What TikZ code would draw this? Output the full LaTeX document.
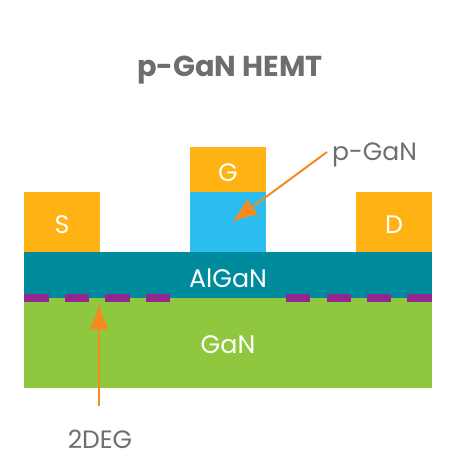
\documentclass[tikz,border=0pt]{standalone}
\usepackage{fontspec}
\usepackage{xcolor}
\usepackage{tikz}
\usetikzlibrary{arrows.meta, positioning}
\setmainfont{Poppins}
\definecolor{contactgold}{RGB}{255, 178, 20}
\definecolor{pganblue}{RGB}{43, 189, 240}
\definecolor{alganteal}{RGB}{0, 139, 157}
\definecolor{gangreen}{RGB}{143, 200, 62}
\definecolor{channelpurple}{RGB}{147, 39, 143}
\definecolor{arroworange}{RGB}{246, 138, 32}
\definecolor{labelgrey}{RGB}{109, 110, 113}

\begin{document}
\begin{tikzpicture}[
    x=0.75pt, y=-0.75pt,
    every node/.style={inner sep=0pt, outer sep=0pt},
    layer/.style={rectangle, minimum width=306pt, text=white, text depth=0pt, font=\fontsize{19}{21}\selectfont},
    contact/.style={rectangle, fill=contactgold, minimum width=57pt, text=white, text height=17.5pt, text depth=0pt, font=\fontsize{19}{21}\selectfont},
    dashbox/.style={rectangle, fill=channelpurple, minimum height=6pt, anchor=west},
    callout/.style={text=labelgrey, font=\fontsize{18.8}{21}\selectfont},
    pointer/.style={-{Latex[length=19pt, width=14.5pt]}, line width=1.5pt, arroworange}
]
\useasboundingbox (0,0) rectangle (452,473);

% Title
\node[text=labelgrey, font=\fontsize{21.6}{24}\selectfont\bfseries] (title) at (230,70) {p-GaN HEMT};

% Substrate and barrier
\node[layer, fill=gangreen, minimum height=67.5pt, text height=15pt, anchor=north] (gan) at (228,298) {GaN};
\node[layer, fill=alganteal, minimum height=34.5pt, text height=19pt, above=0pt of gan] (algan) {AlGaN};

% Source and drain
\node[contact, minimum height=45pt, above right=0pt and 0pt of algan.north west] (src) {S};
\node[contact, minimum height=45pt, above left=0pt and 0pt of algan.north east] (drn) {D};

% Gate stack
\node[rectangle, fill=pganblue, minimum width=57pt, minimum height=45pt, above=0pt of algan] (pgan) {};
\node[contact, minimum height=33.75pt, above=0pt of pgan] (gate) {G};

% 2DEG segments
\node[dashbox, minimum width=18.75pt] (ch1) at (24,298) {};
\node[dashbox, minimum width=18pt] (ch2) at (65,298) {};
\node[dashbox, minimum width=18.75pt] (ch3) at (105,298) {};
\node[dashbox, minimum width=18pt] (ch4) at (146,298) {};
\node[dashbox, minimum width=18pt] (ch5) at (286,298) {};
\node[dashbox, minimum width=18pt] (ch6) at (327,298) {};
\node[dashbox, minimum width=18pt] (ch7) at (367,298) {};
\node[dashbox, minimum width=18.75pt] (ch8) at (407,298) {};

% Callouts
\node[callout] (pganlabel) at (374.5,155) {p-GaN};
\node[callout] (deglabel) at (100,439) {2DEG};
\coordinate (pgantip) at (232,222);
\coordinate (pgantail) at (327,152);
\coordinate (degtip) at (99,304);
\coordinate (degtail) at (99,406);

\draw[pointer] (pgantail) -- (pgantip);
\draw[pointer] (degtail) -- (degtip);

\end{tikzpicture}
\end{document}
